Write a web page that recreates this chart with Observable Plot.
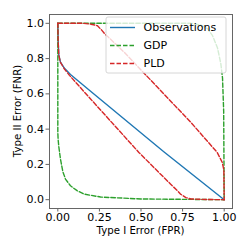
<!DOCTYPE html>
<html>
<head>
<meta charset="utf-8">
<script src="https://cdn.jsdelivr.net/npm/d3@7"></script>
<script src="https://cdn.jsdelivr.net/npm/@observablehq/plot@0.6"></script>
<style>
  html, body { margin: 0; padding: 0; background: #fff; }
  #chart svg { display: block; }
</style>
</head>
<body>
<div id="chart"></div>
<script>
// ---- data ----
const seriesNames = ["Observations", "GDP", "PLD"];
const seriesColors = ["#1f77b4", "#2ca02c", "#d62728"];

const obsX = [0, 0.002, 0.006, 0.016, 0.04, 0.076, 0.197, 0.637, 1];
const obsY = [1, 0.9, 0.82, 0.78, 0.745, 0.71, 0.615, 0.272, 0];

const gdpLowX = [0, 0, 0.002, 0.006, 0.016, 0.03, 0.046, 0.076, 0.116, 0.156, 0.257, 0.5, 1];
const gdpLowY = [1, 0.38, 0.34, 0.3, 0.23, 0.16, 0.117, 0.079, 0.051, 0.032, 0.015, 0.004, 0];

const gdpUpX = [0, 0.8, 0.86, 0.9, 0.93, 0.96, 0.98, 0.99, 0.997, 1];
const gdpUpY = [1, 1, 0.99, 0.97, 0.93, 0.86, 0.77, 0.69, 0.5, 0];

const pldLowX = [0, 0.002, 0.006, 0.015, 0.04, 0.07, 0.197, 0.487, 0.677, 0.72, 0.737, 0.77, 0.8, 0.9, 1];
const pldLowY = [1, 0.9, 0.82, 0.78, 0.74, 0.705, 0.571, 0.268, 0.089, 0.05, 0.032, 0.012, 0.004, 0.001, 0];

const pldUpX = [0, 0.15, 0.2, 0.237, 0.265, 0.287, 0.3, 0.4, 0.8, 0.958, 0.988, 0.998, 1];
const pldUpY = [1, 1, 0.995, 0.987, 0.96, 0.935, 0.925, 0.835, 0.438, 0.268, 0.212, 0.17, 0];

const xTicks = [0, 0.25, 0.5, 0.75, 1];
const yTicks = [0, 0.2, 0.4, 0.6, 0.8, 1];

// ---- build rows ----
function rows(xs, ys, series, part) {
  return xs.map((x, i) => ({x, y: ys[i], series, part}));
}
const obsData = rows(obsX, obsY, "Observations", "obs");
const gdpData = [...rows(gdpLowX, gdpLowY, "GDP", "gdpLow"), ...rows(gdpUpX, gdpUpY, "GDP", "gdpUp")];
const pldData = [...rows(pldLowX, pldLowY, "PLD", "pldLow"), ...rows(pldUpX, pldUpY, "PLD", "pldUp")];

const font = "'DejaVu Sans', sans-serif";
const W = 249, H = 249;
const mL = 49, mR = 17, mT = 14, mB = 41;
const axisColor = "#666";
const dash = "4.5,2";
const lw = 1.4;

const chart = Plot.plot({
  width: W,
  height: H,
  marginLeft: mL,
  marginRight: mR,
  marginTop: mT,
  marginBottom: mB,
  style: {fontFamily: font, fontSize: "11px", color: "#000", background: "#fff"},
  x: {domain: [-0.05, 1.05]},
  y: {domain: [-0.05, 1.05]},
  marks: [
    Plot.line(obsData, {x: "x", y: "y", z: "part", stroke: seriesColors[0], strokeWidth: lw}),
    Plot.line(gdpData, {x: "x", y: "y", z: "part", stroke: seriesColors[1], strokeWidth: lw, strokeDasharray: dash}),
    Plot.line(pldData, {x: "x", y: "y", z: "part", stroke: seriesColors[2], strokeWidth: lw, strokeDasharray: dash}),
    Plot.frame({stroke: axisColor, strokeWidth: 1}),
    Plot.axisX({ticks: xTicks, tickFormat: ".2f", tickSize: 3.5, tickPadding: 1, label: null, stroke: axisColor, fill: "#000"}),
    Plot.axisY({ticks: yTicks, tickFormat: ".1f", tickSize: 3.5, tickPadding: 2, label: null, stroke: axisColor, fill: "#000"})
  ]
});

const svg = d3.select(chart);

// axis titles
svg.append("text")
  .attr("x", mL + (W - mL - mR) / 2)
  .attr("y", 233.5)
  .attr("text-anchor", "middle")
  .attr("font-family", font)
  .attr("font-size", "10.2px")
  .attr("fill", "#000")
  .text("Type I Error (FPR)");

svg.append("text")
  .attr("transform", `translate(20.5,${mT + (H - mT - mB) / 2}) rotate(-90)`)
  .attr("text-anchor", "middle")
  .attr("font-family", font)
  .attr("font-size", "10.2px")
  .attr("fill", "#000")
  .text("Type II Error (FNR)");

// legend (upper right, semi-transparent box)
const lg = svg.append("g").attr("text-anchor", "start");
lg.append("rect")
  .attr("x", 106).attr("y", 17)
  .attr("width", 120).attr("height", 56)
  .attr("rx", 2)
  .attr("fill", "#fff").attr("fill-opacity", 0.8)
  .attr("stroke", "#ccc").attr("stroke-width", 0.8);
seriesNames.forEach((name, i) => {
  const cy = 27.5 + i * 18;
  lg.append("line")
    .attr("x1", 110).attr("x2", 135)
    .attr("y1", cy).attr("y2", cy)
    .attr("stroke", seriesColors[i])
    .attr("stroke-width", lw)
    .attr("stroke-dasharray", i === 0 ? null : dash);
  lg.append("text")
    .attr("x", 143.5).attr("y", cy)
    .attr("dy", "0.36em")
    .attr("text-anchor", "start")
    .attr("font-family", font)
    .attr("font-size", "11px")
    .attr("fill", "#000")
    .text(name);
});

document.getElementById("chart").appendChild(chart);
</script>
</body>
</html>
